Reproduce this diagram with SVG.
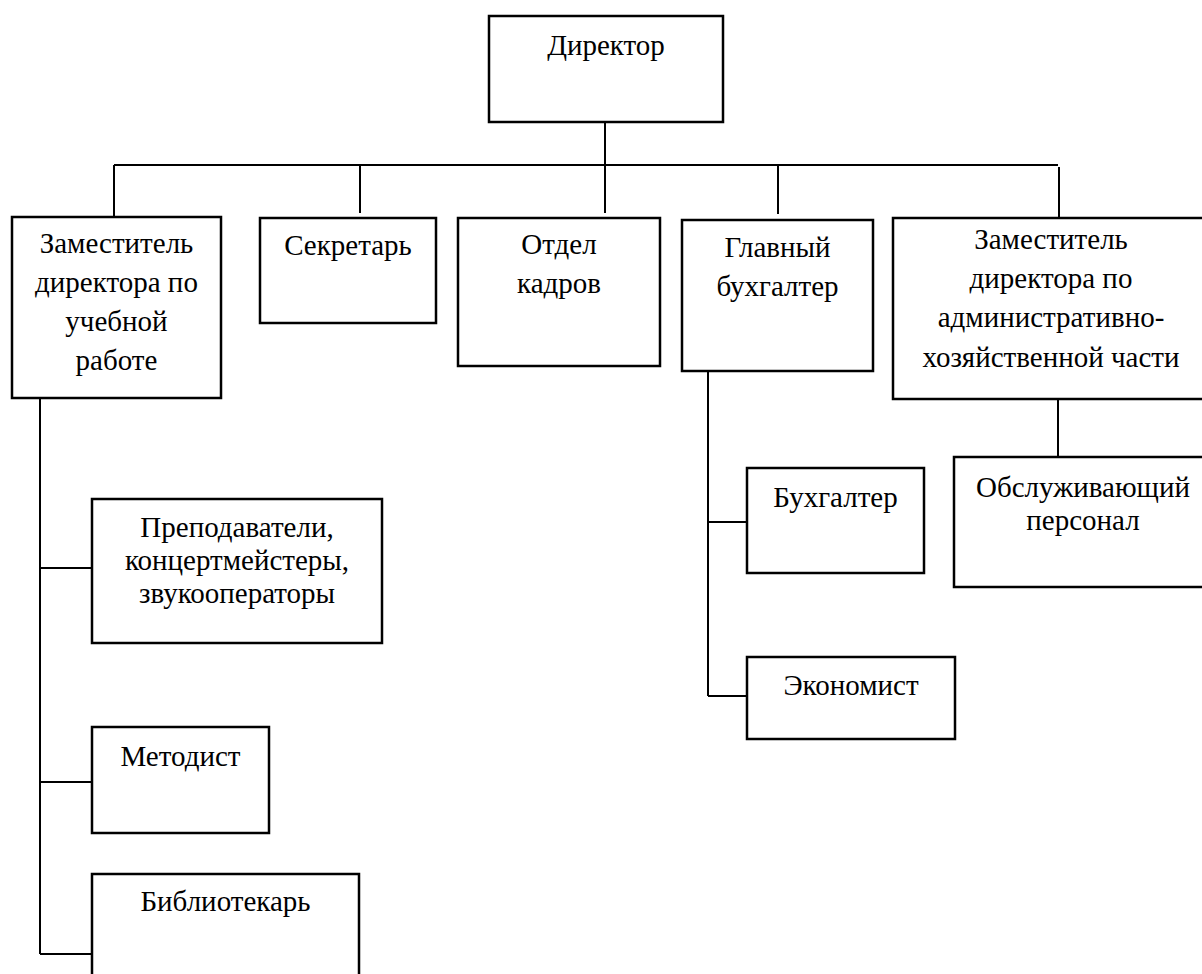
<svg xmlns="http://www.w3.org/2000/svg" width="1202" height="974" viewBox="0 0 1202 974">
<style>
.box{fill:#fff;stroke:#000;stroke-width:2.5}
.con{fill:none;stroke:#000;stroke-width:2}
text{font-family:"Liberation Serif","Times New Roman",serif;font-size:29px;fill:#000;text-anchor:middle}
</style>
<rect width="1202" height="974" fill="#fff"/>
<g id="connectors">
<path class="con" d="M605 122V213"/>
<path class="con" d="M114 165H1058"/>
<path class="con" d="M114 165V217"/>
<path class="con" d="M360 165V213"/>
<path class="con" d="M778 165V214"/>
<path class="con" d="M1059 167V218"/>
<path class="con" d="M40 398V954"/>
<path class="con" d="M40 568H92"/>
<path class="con" d="M40 782H92"/>
<path class="con" d="M40 954H92"/>
<path class="con" d="M708 371V696"/>
<path class="con" d="M708 522H747"/>
<path class="con" d="M708 696H747"/>
<path class="con" d="M1058 399V457"/>
</g>
<g id="director"><rect class="box" x="489" y="16" width="234" height="106"/><text x="606" y="55">Директор</text></g>
<g id="zam-ucheb"><rect class="box" x="12" y="217" width="209" height="181"/>
<text x="116.5" y="253">Заместитель</text><text x="116.5" y="292">директора по</text><text x="116.5" y="331">учебной</text><text x="116.5" y="370">работе</text></g>
<g id="sekretar"><rect class="box" x="260" y="218" width="176" height="105"/><text x="348" y="255">Секретарь</text></g>
<g id="otdel-kadrov"><rect class="box" x="458" y="218" width="202" height="148"/><text x="559" y="254">Отдел</text><text x="559" y="293">кадров</text></g>
<g id="glavbuh"><rect class="box" x="682" y="220" width="191" height="151"/><text x="777.5" y="257">Главный</text><text x="777.5" y="296">бухгалтер</text></g>
<g id="zam-ahch"><rect class="box" x="893" y="218" width="317" height="181"/>
<text x="1051" y="249">Заместитель</text><text x="1051" y="288">директора по</text><text x="1051" y="327">административно-</text><text x="1051" y="367">хозяйственной части</text></g>
<g id="obsluzh"><rect class="box" x="954" y="457" width="258" height="130"/><text x="1083" y="497">Обслуживающий</text><text x="1083" y="530">персонал</text></g>
<g id="buhgalter"><rect class="box" x="747" y="468" width="177" height="105"/><text x="835.5" y="507">Бухгалтер</text></g>
<g id="ekonomist"><rect class="box" x="747" y="657" width="208" height="82"/><text x="851" y="695">Экономист</text></g>
<g id="prepodavateli"><rect class="box" x="92" y="499" width="290" height="144"/>
<text x="237" y="537">Преподаватели,</text><text x="237" y="570">концертмейстеры,</text><text x="237" y="603">звукооператоры</text></g>
<g id="metodist"><rect class="box" x="92" y="727" width="177" height="106"/><text x="180.5" y="766">Методист</text></g>
<g id="bibliotekar"><rect class="box" x="92" y="874" width="267" height="110"/><text x="225.5" y="911">Библиотекарь</text></g>
</svg>
